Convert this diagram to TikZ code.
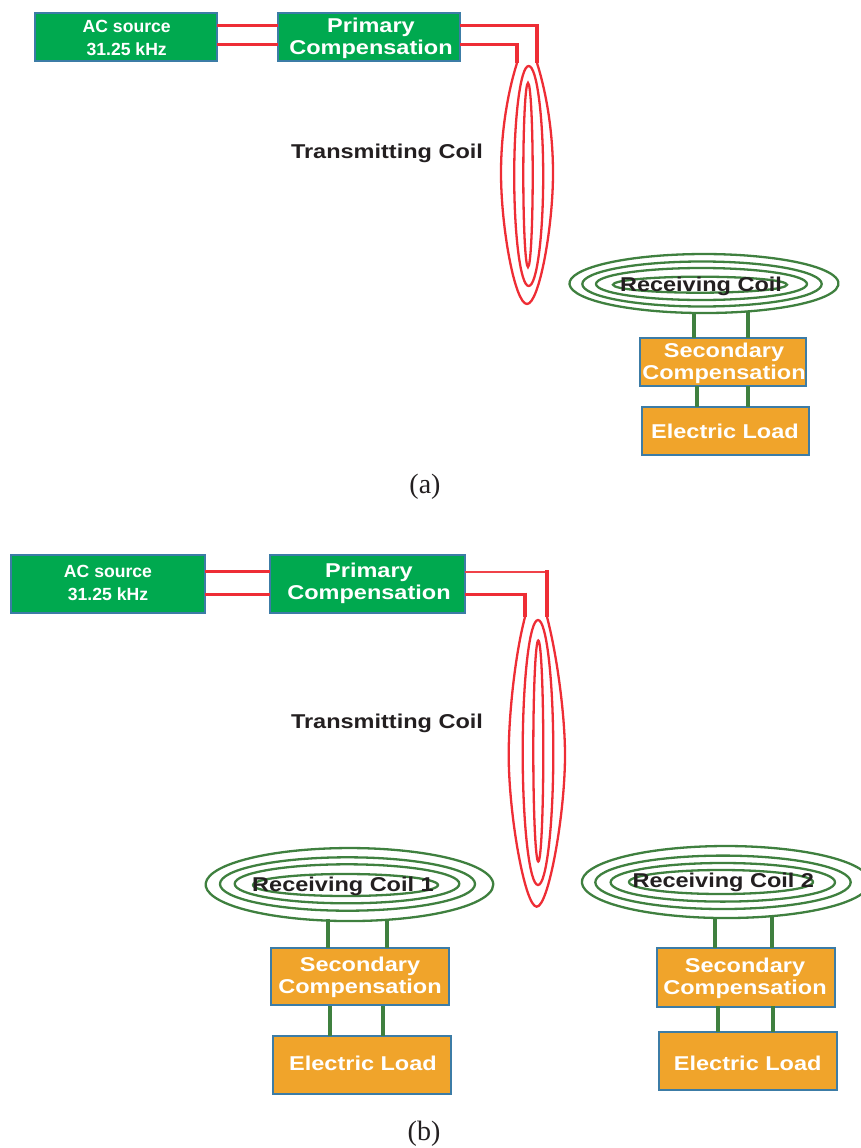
\documentclass[tikz,border=0pt]{standalone}
\usepackage{fontspec}
\setmainfont{Liberation Sans}
\newfontfamily\wideb[FakeStretch=1.175]{Liberation Sans Bold}
\newfontfamily\narb{Liberation Sans Bold}
\newfontfamily\capf{Liberation Serif}
\definecolor{bgreen}{HTML}{00A94F}
\definecolor{borange}{HTML}{F0A42B}
\definecolor{bedge}{HTML}{3C7CA6}
\definecolor{cred}{HTML}{EE2D35}
\definecolor{cgreen}{HTML}{3F803F}
\definecolor{tdark}{HTML}{231F20}
\tikzset{
 x=1pt,y=-1pt,
 pbox/.style={draw=bedge,line width=1.8pt,fill=#1,inner sep=0pt,outer sep=0pt,anchor=north west},
 txtw/.style={font=\fontsize{20}{22}\wideb,text=white,align=center,inner sep=0pt},
 txts/.style={font=\fontsize{17.6}{22.8}\narb,text=white,align=center,inner sep=0pt},
 lab/.style={text=tdark,font=\fontsize{20}{22}\wideb,inner sep=0pt},
 redw/.style={draw=cred,line width=3pt},
 redt/.style={draw=cred!90,line width=2.6pt},
 redv/.style={draw=cred,line width=4pt},
 coilr/.style={draw=cred,line width=2.3pt},
 coilg/.style={draw=cgreen,line width=2.3pt},
 wireg/.style={draw=cgreen,line width=3.8pt},
 capt/.style={font=\fontsize{28}{30}\capf,text=tdark,inner sep=0pt}
}
\begin{document}
\begin{tikzpicture}
\useasboundingbox (0,0) rectangle (860,1148);
% --- (a) ---
\draw[coilr] (517,63) .. controls (506,98) and (501,138) .. (501,173)
 .. controls (501,228) and (515,304) .. (527,304)
 .. controls (539,304) and (553,228) .. (553,173)
 .. controls (553,138) and (548,98) .. (537,63);
\draw[coilr] (528.7,176) ellipse [x radius=14.5,y radius=110];
\draw[coilr] (528,175) ellipse [x radius=4.7,y radius=92];
\node[pbox=bgreen,minimum width=182pt,minimum height=48pt] (acA) at (35,13) {};
\node[txts] (acAt) at (126.7,37.8) {AC source\\31.25 kHz};
\node[pbox=bgreen,minimum width=182pt,minimum height=48pt] (prA) at (278,13) {};
\node[txtw] (prAt) at (371,38.5) {Primary\\Compensation};
\coordinate (ctA1) at (537,63);
\coordinate (ctA2) at (517,63);
\coordinate (yA1) at (0,26);
\coordinate (yA2) at (0,45);
\draw[redw] (acA.east |- yA1) -- (prA.west |- yA1);
\draw[redw] (acA.east |- yA2) -- (prA.west |- yA2);
\draw[redw] (prA.east |- yA1) -- (ctA1 |- yA1);
\draw[redv] (ctA1 |- yA1) ++(0,-1.5) -- (ctA1);
\draw[redw] (prA.east |- yA2) -- (ctA2 |- yA2);
\draw[redv] (ctA2 |- yA2) ++(0,-1.5) -- (ctA2);
\node[lab] (tA) at (387,153) {Transmitting Coil};
% receiving a
\draw[coilg] (748,311.4) arc[start angle=70.9,end angle=454.3,x radius=134.5,y radius=29.5];
\draw[coilg] (702,284) ellipse [x radius=119.7,y radius=22.5];
\draw[coilg] (701.5,284) ellipse [x radius=105.5,y radius=16];
\draw[coilg] (700,284.7) ellipse [x radius=87,y radius=8];
\node[lab] (rA) at (701,286) {Receiving Coil};
\node[pbox=borange,minimum width=166pt,minimum height=48pt] (sA) at (640,338) {};
\node[txtw] (sAt) at (724,363) {Secondary\\Compensation};
\node[pbox=borange,minimum width=167pt,minimum height=48pt] (lA) at (642,407) {};
\node[txtw] (lAt) at (725,431.5) {Electric Load};
\coordinate (rA1) at (694,313);
\coordinate (rA2) at (748,311);
\draw[wireg] (rA1) -- (rA1 |- sA.north);
\draw[wireg] (rA2) -- (rA2 |- sA.north);
\coordinate (sA1) at (697,386);
\coordinate (sA2) at (748,386);
\draw[wireg] (sA1) -- (sA1 |- lA.north);
\draw[wireg] (sA2) -- (sA2 |- lA.north);
\node[capt] (cA) at (425,487) {(a)};
% --- (b) ---
\draw[coilr] (525,617) .. controls (515,655) and (508.7,715) .. (508.7,755)
 .. controls (508.7,815) and (525,906.7) .. (536.7,906.7)
 .. controls (548.5,906.7) and (565,815) .. (565,755)
 .. controls (565,715) and (557,655) .. (547,617);
\draw[coilr] (538,752.5) ellipse [x radius=15.3,y radius=132.5];
\draw[coilr] (538.3,751) ellipse [x radius=5,y radius=110.5];
\node[pbox=bgreen,minimum width=194pt,minimum height=58pt] (acB) at (11,555) {};
\node[txts] (acBt) at (108,583.3) {AC source\\31.25 kHz};
\node[pbox=bgreen,minimum width=195pt,minimum height=58pt] (prB) at (270,555) {};
\node[txtw] (prBt) at (369,583.5) {Primary\\Compensation};
\coordinate (ctB1) at (547,617);
\coordinate (ctB2) at (525,617);
\coordinate (yB1) at (0,571);
\coordinate (yB2) at (0,594);
\coordinate (yB3) at (0,572);
\draw[redw] (acB.east |- yB1) -- (prB.west |- yB1);
\draw[redw] (acB.east |- yB2) -- (prB.west |- yB2);
\draw[redt] (prB.east |- yB3) -- (ctB1 |- yB3);
\draw[redv] (ctB1 |- yB1) ++(0,-1) -- (ctB1);
\draw[redw] (prB.east |- yB2) -- (ctB2 |- yB2);
\draw[redv] (ctB2 |- yB2) ++(0,-1.5) -- (ctB2);
\node[lab] (tB) at (387,723) {Transmitting Coil};
% receiving 1
\draw[coilg] (386.7,919.8) arc[start angle=75,end angle=458.7,x radius=143.8,y radius=36.5];
\draw[coilg] (347.5,884) ellipse [x radius=127.5,y radius=26.7];
\draw[coilg] (347,883.8) ellipse [x radius=112.3,y radius=19.5];
\draw[coilg] (345.5,885) ellipse [x radius=92.5,y radius=11];
\node[lab] (rB) at (343,886) {Receiving Coil 1};
\node[pbox=borange,minimum width=178pt,minimum height=57pt] (sB) at (271,948) {};
\node[txtw] (sBt) at (360,977) {Secondary\\Compensation};
\node[pbox=borange,minimum width=178pt,minimum height=58pt] (lB) at (273,1036) {};
\node[txtw] (lBt) at (363,1063.5) {Electric Load};
\coordinate (rB1) at (328,919);
\coordinate (rB2) at (387,919);
\draw[wireg] (rB1) -- (rB1 |- sB.north);
\draw[wireg] (rB2) -- (rB2 |- sB.north);
\coordinate (sB1) at (330,1006);
\coordinate (sB2) at (383,1006);
\draw[wireg] (sB1) -- (sB1 |- lB.north);
\draw[wireg] (sB2) -- (sB2 |- lB.north);
% receiving 2
\draw[coilg] (772.3,916.1) arc[start angle=71.2,end angle=454.4,x radius=144,y radius=36];
\draw[coilg] (723,882.3) ellipse [x radius=127.7,y radius=26.7];
\draw[coilg] (722.8,882.3) ellipse [x radius=112.2,y radius=19.3];
\draw[coilg] (721,882) ellipse [x radius=92,y radius=12];
\node[lab] (rC) at (723.3,882.8) {Receiving Coil 2};
\node[pbox=borange,minimum width=178pt,minimum height=59pt] (sC) at (657,948) {};
\node[txtw] (sCt) at (745,978) {Secondary\\Compensation};
\node[pbox=borange,minimum width=178pt,minimum height=58pt] (lC) at (659,1032) {};
\node[txtw] (lCt) at (747.7,1063.5) {Electric Load};
\coordinate (rC1) at (715,918);
\coordinate (rC2) at (772.3,916);
\draw[wireg] (rC1) -- (rC1 |- sC.north);
\draw[wireg] (rC2) -- (rC2 |- sC.north);
\coordinate (sC1) at (718,1006);
\coordinate (sC2) at (772.7,1006);
\draw[wireg] (sC1) -- (sC1 |- lC.north);
\draw[wireg] (sC2) -- (sC2 |- lC.north);
\node[capt] (cB) at (424,1134) {(b)};
\end{tikzpicture}
\end{document}
